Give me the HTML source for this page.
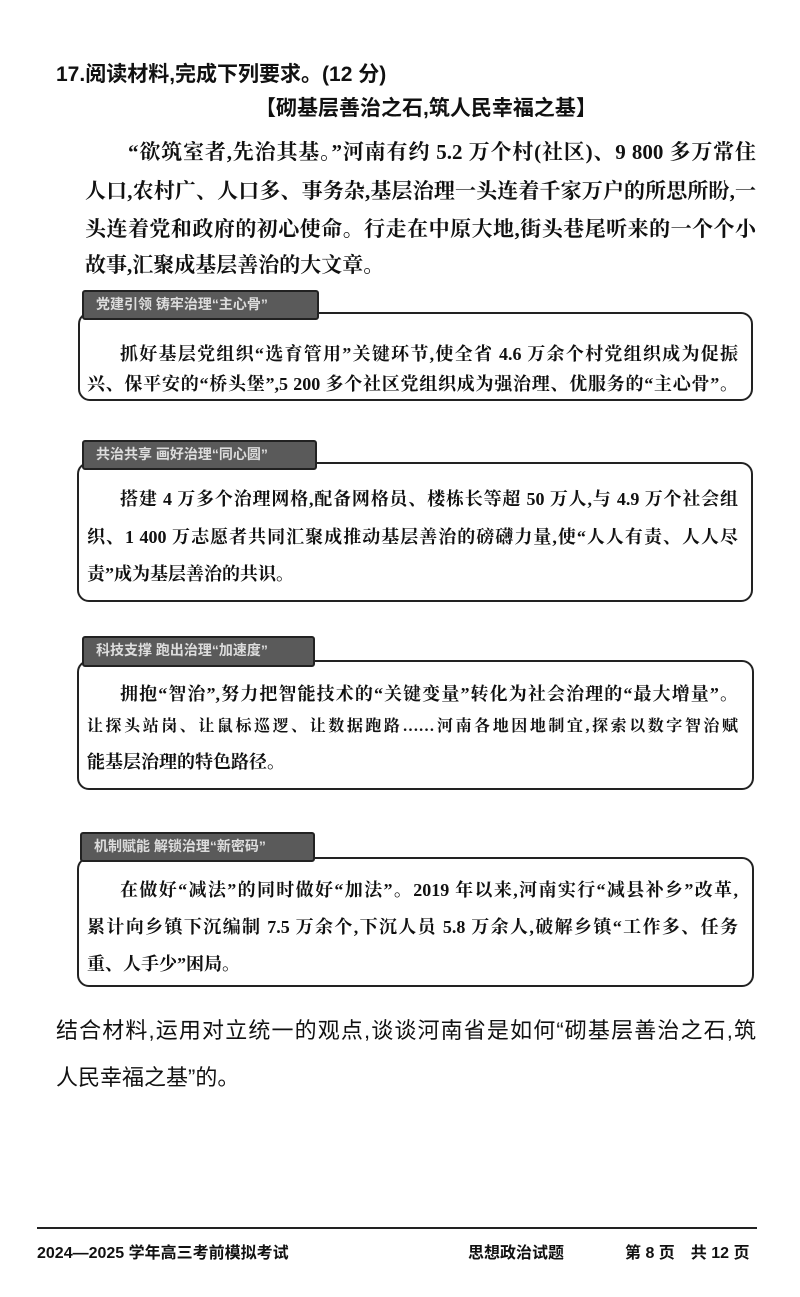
<!DOCTYPE html>
<html><head><meta charset="utf-8"><style>
html,body{margin:0;padding:0;background:#fff;}
body{width:800px;height:1297px;position:relative;overflow:hidden;color:#111;font-family:"Liberation Serif","Noto Serif CJK SC",serif;}
.l{position:absolute;white-space:nowrap;}
.j{text-align:justify;text-align-last:justify;white-space:normal;}
.h{font-family:"Liberation Sans","Noto Sans CJK SC",sans-serif;font-weight:bold;}
.p{font-size:21px;font-weight:bold;}
.b{font-size:18px;font-weight:bold;}
.box{position:absolute;border:2px solid #222;border-radius:12px;}
.tab{position:absolute;background:#5a5a5a;border:2px solid #222;border-radius:3px;color:#ddd;font-size:14px;line-height:24px;padding-left:12px;font-family:"Liberation Sans","Noto Sans CJK SC",sans-serif;font-weight:bold;}
</style></head><body>
<div class="l h" style="left:56px;top:58px;font-size:21px;">17.阅读材料,完成下列要求。(12 分)</div>
<div class="l h" style="left:255px;top:92px;font-size:21px;">【砌基层善治之石,筑人民幸福之基】</div>
<div class="l p j" style="left:128px;top:136px;width:628px;">“欲筑室者,先治其基。”河南有约 5.2 万个村(社区)、9 800 多万常住</div>
<div class="l p j" style="left:85px;top:175px;width:671px;">人口,农村广、人口多、事务杂,基层治理一头连着千家万户的所思所盼,一</div>
<div class="l p j" style="left:85px;top:213px;width:671px;">头连着党和政府的初心使命。行走在中原大地,街头巷尾听来的一个个小</div>
<div class="l p" style="left:85px;top:249px;">故事,汇聚成基层善治的大文章。</div>

<div class="box" style="left:78px;top:312px;width:671px;height:85px;"></div>
<div class="tab" style="left:82px;top:290px;width:221px;height:26px;">党建引领 铸牢治理“主心骨”</div>
<div class="l b j" style="left:120px;top:340px;width:618px;">抓好基层党组织“选育管用”关键环节,使全省 4.6 万余个村党组织成为促振</div>
<div class="l b j" style="left:87px;top:370px;width:651px;">兴、保平安的“桥头堡”,5 200 多个社区党组织成为强治理、优服务的“主心骨”。</div>

<div class="box" style="left:77px;top:462px;width:672px;height:136px;"></div>
<div class="tab" style="left:82px;top:440px;width:219px;height:26px;">共治共享 画好治理“同心圆”</div>
<div class="l b j" style="left:120px;top:485px;width:618px;">搭建 4 万多个治理网格,配备网格员、楼栋长等超 50 万人,与 4.9 万个社会组</div>
<div class="l b j" style="left:87px;top:523px;width:651px;">织、1 400 万志愿者共同汇聚成推动基层善治的磅礴力量,使“人人有责、人人尽</div>
<div class="l b" style="left:87px;top:560px;">责”成为基层善治的共识。</div>

<div class="box" style="left:77px;top:660px;width:673px;height:126px;"></div>
<div class="tab" style="left:82px;top:636px;width:217px;height:27px;">科技支撑 跑出治理“加速度”</div>
<div class="l b j" style="left:120px;top:680px;width:618px;">拥抱“智治”,努力把智能技术的“关键变量”转化为社会治理的“最大增量”。</div>
<div class="l b j" style="left:87px;top:713px;width:651px;font-size:16px;">让探头站岗、让鼠标巡逻、让数据跑路……河南各地因地制宜,探索以数字智治赋</div>
<div class="l b" style="left:87px;top:748px;">能基层治理的特色路径。</div>

<div class="box" style="left:77px;top:857px;width:673px;height:126px;"></div>
<div class="tab" style="left:80px;top:832px;width:219px;height:26px;">机制赋能 解锁治理“新密码”</div>
<div class="l b j" style="left:120px;top:876px;width:618px;">在做好“减法”的同时做好“加法”。2019 年以来,河南实行“减县补乡”改革,</div>
<div class="l b j" style="left:87px;top:913px;width:651px;">累计向乡镇下沉编制 7.5 万余个,下沉人员 5.8 万余人,破解乡镇“工作多、任务</div>
<div class="l b" style="left:87px;top:950px;">重、人手少”困局。</div>

<div class="l h j" style="left:56px;top:1013px;width:700px;font-size:22px;font-weight:normal;">结合材料,运用对立统一的观点,谈谈河南省是如何“砌基层善治之石,筑</div>
<div class="l h" style="left:56px;top:1060px;font-size:22px;font-weight:normal;">人民幸福之基”的。</div>

<div style="position:absolute;left:37px;top:1227px;width:720px;height:2px;background:#222;"></div>
<div class="l h" style="left:37px;top:1239px;font-size:16px;">2024—2025 学年高三考前模拟考试</div>
<div class="l h" style="left:468px;top:1239px;font-size:16px;">思想政治试题</div>
<div class="l h" style="left:625px;top:1239px;font-size:16px;">第 8 页　共 12 页</div>
</body></html>
